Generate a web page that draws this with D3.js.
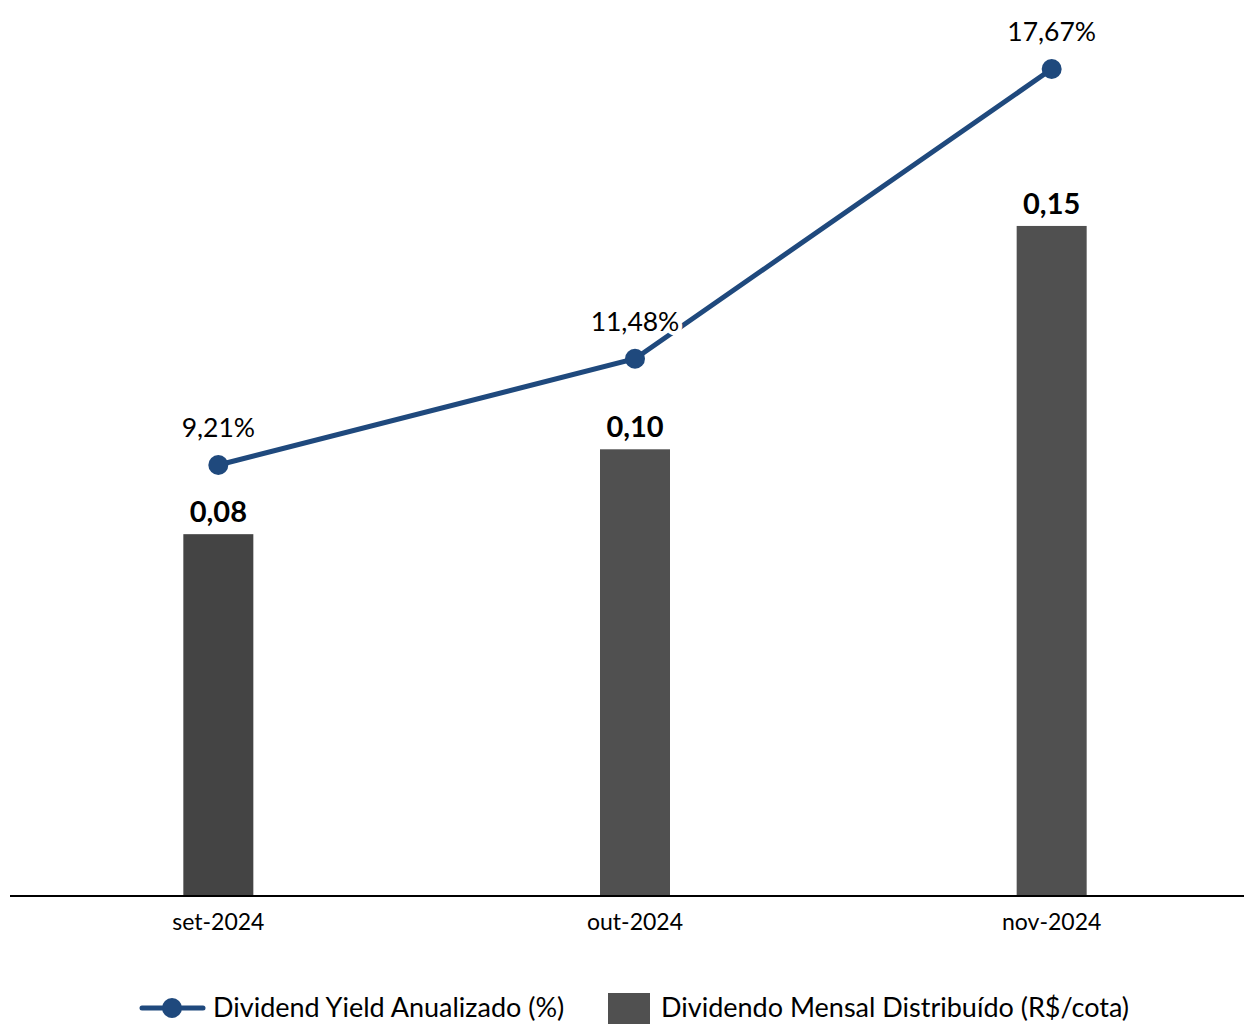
<!DOCTYPE html>
<html><head><meta charset="utf-8">
<script src="https://cdn.jsdelivr.net/npm/d3@7"></script>
<style>html,body{margin:0;padding:0;background:#fff}svg{display:block}</style>
</head><body><svg id="c" width="1244" height="1024"></svg>
<script>
const categories = ["set-2024", "out-2024", "nov-2024"];
const dividendValues = [0.081, 0.10, 0.15];
const yieldValues = [9.21, 11.48, 17.67];
const barColors = ["#444444", "#505050", "#505050"];
const seriesNames = ["Dividend Yield Anualizado (%)", "Dividendo Mensal Distribuído (R$/cota)"];

const FONT = "Lato, 'Open Sans', sans-serif";
const svg = d3.select("#c");
const base = 896;
const x = d3.scaleBand().domain(categories).range([10, 1260]).paddingInner(0).paddingOuter(0);
const yBar = d3.scaleLinear().domain([0, 0.16]).range([base, base - 0.16 * 4467]);
const yYield = d3.scaleLinear().domain([0, 18]).range([base, base - 18 * 46.8]);
const fmt2 = v => d3.format(".2f")(v).replace(".", ",");

const cx = c => x(c) + x.bandwidth() / 2;
const bw = 70;

// bars
svg.selectAll("rect.bar").data(categories).enter().append("rect")
  .attr("x", c => cx(c) - bw / 2).attr("width", bw)
  .attr("y", (c, i) => yBar(dividendValues[i]))
  .attr("height", (c, i) => base - yBar(dividendValues[i]))
  .attr("fill", (c, i) => barColors[i]);

// bar labels
svg.selectAll("text.bl").data(categories).enter().append("text")
  .attr("x", cx).attr("y", (c, i) => yBar(dividendValues[i]) - 12)
  .attr("text-anchor", "middle").attr("font-family", FONT).attr("font-weight", "bold")
  .attr("font-size", 29).attr("fill", "#000")
  .text((c, i) => fmt2(dividendValues[i]));

// axis
const axis = svg.append("g").attr("transform", `translate(0,${base})`)
  .call(d3.axisBottom(x).tickSize(0).tickPadding(18));
axis.select(".domain").attr("stroke", "#000").attr("stroke-width", 2).attr("d", "M10,0H1244");
axis.selectAll("text").attr("font-family", FONT).attr("font-size", 23).attr("fill", "#000");

// line
const line = d3.line().x((d, i) => cx(categories[i])).y(d => yYield(d));
svg.append("path").datum(yieldValues).attr("d", line)
  .attr("fill", "none").attr("stroke", "#1F497D").attr("stroke-width", 5);
svg.selectAll("circle.pt").data(yieldValues).enter().append("circle")
  .attr("cx", (d, i) => cx(categories[i])).attr("cy", d => yYield(d)).attr("r", 10)
  .attr("fill", "#1F497D");
svg.selectAll("text.yl").data(yieldValues).enter().append("text")
  .attr("x", (d, i) => cx(categories[i])).attr("y", d => yYield(d) - 28)
  .attr("text-anchor", "middle").attr("font-family", FONT).attr("font-size", 26.5)
  .attr("fill", "#000").attr("stroke", "#fff").attr("stroke-width", 8)
  .attr("paint-order", "stroke")
  .text(d => fmt2(d) + "%");

// legend
const lg = svg.append("g").attr("transform", "translate(0,1008)");
lg.append("line").attr("x1", 142).attr("x2", 203).attr("y1", 0).attr("y2", 0)
  .attr("stroke", "#1F497D").attr("stroke-width", 5).attr("stroke-linecap", "round");
lg.append("circle").attr("cx", 172).attr("cy", 0).attr("r", 10).attr("fill", "#1F497D");
lg.append("text").attr("x", 213).attr("y", 9).attr("font-family", FONT).attr("font-size", 27)
  .attr("fill", "#000").text(seriesNames[0]);
lg.append("rect").attr("x", 608).attr("y", -15).attr("width", 42).attr("height", 42).attr("fill", "#505050");
lg.append("text").attr("x", 661).attr("y", 9).attr("font-family", FONT).attr("font-size", 27)
  .attr("fill", "#000").text(seriesNames[1]);
</script></body></html>
